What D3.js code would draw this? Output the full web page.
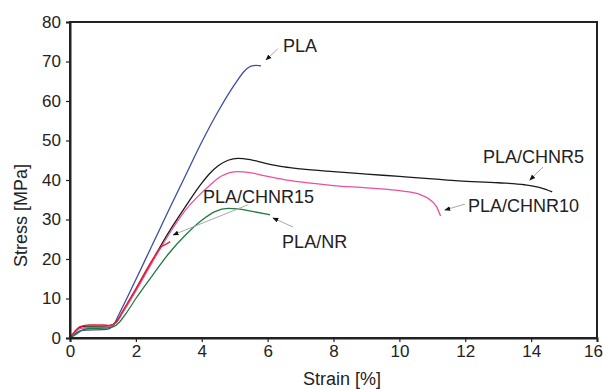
<!DOCTYPE html>
<html>
<head>
<meta charset="utf-8">
<script src="https://cdn.jsdelivr.net/npm/d3@7"></script>
<style>
  html, body { margin: 0; padding: 0; background: #fff; }
  svg { display: block; font-family: "Liberation Sans", Arial, sans-serif; }
</style>
</head>
<body>
<svg id="chart" width="603" height="389"></svg>
<script>
// Tensile stress-strain curves (strain %, stress MPa)
const strainTicks = [0, 2, 4, 6, 8, 10, 12, 14, 16];
const stressTicks = [0, 10, 20, 30, 40, 50, 60, 70, 80];

const pla = [
  [0, 0], [0.15, 1.0], [0.3, 1.8], [0.5, 2.0], [1.0, 2.1], [1.2, 2.4], [1.3, 3.0],
  [1.5, 6.2], [2.0, 14.8], [2.5, 23.6], [3.0, 32.4], [3.5, 41.0], [4.0, 49.6],
  [4.5, 57.4], [5.0, 64.2], [5.3, 67.6], [5.5, 68.8], [5.65, 69.0], [5.8, 68.9]
];
const chnr5 = [
  [0, 0], [0.15, 1.6], [0.3, 2.7], [0.5, 3.0], [1.0, 3.0], [1.2, 3.1], [1.4, 4.0],
  [1.6, 6.6], [2.0, 12.2], [2.5, 19.6], [3.0, 26.8], [3.5, 33.2], [4.0, 39.2],
  [4.25, 41.7], [4.5, 43.6], [4.8, 45.0], [5.1, 45.5], [5.5, 45.1], [6.0, 44.1],
  [6.5, 43.3], [7.0, 42.8], [8.0, 42.1], [9.0, 41.5], [10.0, 40.9], [11.0, 40.3],
  [11.8, 39.8], [13.0, 39.3], [13.8, 38.8], [14.3, 38.0], [14.64, 37.0]
];
const chnr10 = [
  [0, 0], [0.15, 1.4], [0.3, 2.4], [0.5, 2.6], [1.0, 2.7], [1.2, 2.9], [1.4, 3.9],
  [1.6, 6.4], [2.0, 11.9], [2.5, 19.2], [3.0, 26.2], [3.5, 32.3], [4.0, 36.8],
  [4.25, 38.7], [4.6, 41.0], [5.1, 42.1], [5.5, 41.8], [6.0, 40.9], [6.5, 40.1],
  [7.0, 39.5], [8.0, 38.6], [9.0, 38.0], [10.1, 37.2], [10.6, 36.4], [10.93, 35.0],
  [11.13, 33.2], [11.25, 30.9]
];
const chnr15 = [
  [0, 0], [0.15, 1.7], [0.3, 2.9], [0.6, 3.3], [1.0, 3.3], [1.2, 3.2], [1.4, 4.0],
  [1.6, 6.8], [2.0, 12.5], [2.5, 19.8], [2.79, 23.2], [2.9, 23.7], [3.04, 24.4]
];
const nr = [
  [0, 0], [0.2, 1.0], [0.4, 2.1], [0.6, 2.4], [1.1, 2.5], [1.3, 2.8], [1.5, 4.0],
  [1.7, 6.2], [2.0, 10.0], [2.5, 15.8], [3.0, 21.4], [3.5, 26.0], [4.0, 29.8],
  [4.4, 32.0], [4.8, 32.8], [5.1, 32.7], [5.5, 32.1], [6.07, 31.2]
];

const seriesNames = ["PLA", "PLA/CHNR5", "PLA/CHNR10", "PLA/CHNR15", "PLA/NR"];
const seriesData = [pla, chnr5, chnr10, chnr15, nr];
const seriesColors = ["#3b4ea2", "#1a1a1a", "#ec4f9c", "#e42330", "#207a3e"];

// Label text anchor and callout arrow (from -> to), in data units
const labelText = ["PLA", "PLA/CHNR15", "PLA/NR", "PLA/CHNR5", "PLA/CHNR10"];
const labelPos = [[6.47, 72.4], [4.04, 34.2], [6.44, 22.8], [12.54, 44.3], [12.08, 31.9]];
const arrowFrom = [[6.31, 73.2], [5.40, 33.7], [6.77, 28.1], [14.36, 43.3], [11.99, 33.9]];
const arrowTo = [[5.95, 70.4], [3.13, 26.1], [6.16, 30.4], [13.96, 40.0], [11.38, 32.4]];

const W = 603, H = 389;
const margin = { top: 22, right: 6, bottom: 51, left: 70 };
const svg = d3.select("#chart");

const x = d3.scaleLinear().domain([0, 16]).range([margin.left, W - margin.right]);
const y = d3.scaleLinear().domain([0, 80]).range([H - margin.bottom, margin.top]);

const axisColor = "#222";

// arrowhead for callouts
svg.append("defs").append("marker")
  .attr("id", "head")
  .attr("viewBox", "0 0 10 10")
  .attr("refX", 9).attr("refY", 5)
  .attr("markerWidth", 6).attr("markerHeight", 6)
  .attr("markerUnits", "userSpaceOnUse")
  .attr("orient", "auto")
  .append("path").attr("d", "M0,1 L10,5 L0,9 Z").attr("fill", "#111");

// curves
const line = d3.line()
  .x(d => x(d[0])).y(d => y(d[1]))
  .curve(d3.curveMonotoneX);

svg.append("g").selectAll("path")
  .data(seriesData)
  .join("path")
  .attr("d", line)
  .attr("fill", "none")
  .attr("stroke", (d, i) => seriesColors[i])
  .attr("stroke-width", 1.3)
  .attr("stroke-linejoin", "round");

// frame
svg.append("rect")
  .attr("x", x(0)).attr("y", y(80))
  .attr("width", x(16) - x(0)).attr("height", y(0) - y(80))
  .attr("fill", "none").attr("stroke", axisColor).attr("stroke-width", 2);

// axes
const xAxis = svg.append("g")
  .attr("transform", `translate(0,${y(0)})`)
  .call(d3.axisBottom(x).tickValues(strainTicks).tickSize(4).tickPadding(3));
const yAxis = svg.append("g")
  .attr("transform", `translate(${x(0)},0)`)
  .call(d3.axisLeft(y).tickValues(stressTicks).tickSize(4).tickPadding(5));

[xAxis, yAxis].forEach(g => {
  g.select(".domain").attr("stroke", axisColor).attr("stroke-width", 2);
  g.selectAll(".tick line").attr("stroke", axisColor).attr("stroke-width", 1.2);
  g.selectAll(".tick text")
    .attr("fill", axisColor)
    .style("font-size", "17px")
    .style("font-family", "'Liberation Sans', Arial, sans-serif");
});
// keep the last strain label inside the page
xAxis.selectAll(".tick text").filter(d => d === 16).attr("dx", -4);

// axis titles
svg.append("text")
  .attr("x", 342).attr("y", 385)
  .attr("text-anchor", "middle")
  .attr("fill", axisColor)
  .style("font-size", "18px")
  .text("Strain [%]");

svg.append("text")
  .attr("transform", `translate(27,${y(31)}) rotate(-90)`)
  .attr("text-anchor", "middle")
  .attr("fill", axisColor)
  .style("font-size", "18px")
  .text("Stress [MPa]");

// callouts
const ann = svg.append("g");
ann.selectAll("line")
  .data(arrowFrom)
  .join("line")
  .attr("x1", d => x(d[0])).attr("y1", d => y(d[1]))
  .attr("x2", (d, i) => x(arrowTo[i][0])).attr("y2", (d, i) => y(arrowTo[i][1]))
  .attr("stroke", "#a8a8a8").attr("stroke-width", 1)
  .attr("marker-end", "url(#head)");

ann.selectAll("text")
  .data(labelText)
  .join("text")
  .attr("x", (d, i) => x(labelPos[i][0]))
  .attr("y", (d, i) => y(labelPos[i][1]))
  .attr("fill", "#222")
  .style("font-size", "18px")
  .text(d => d);
</script>
</body>
</html>
